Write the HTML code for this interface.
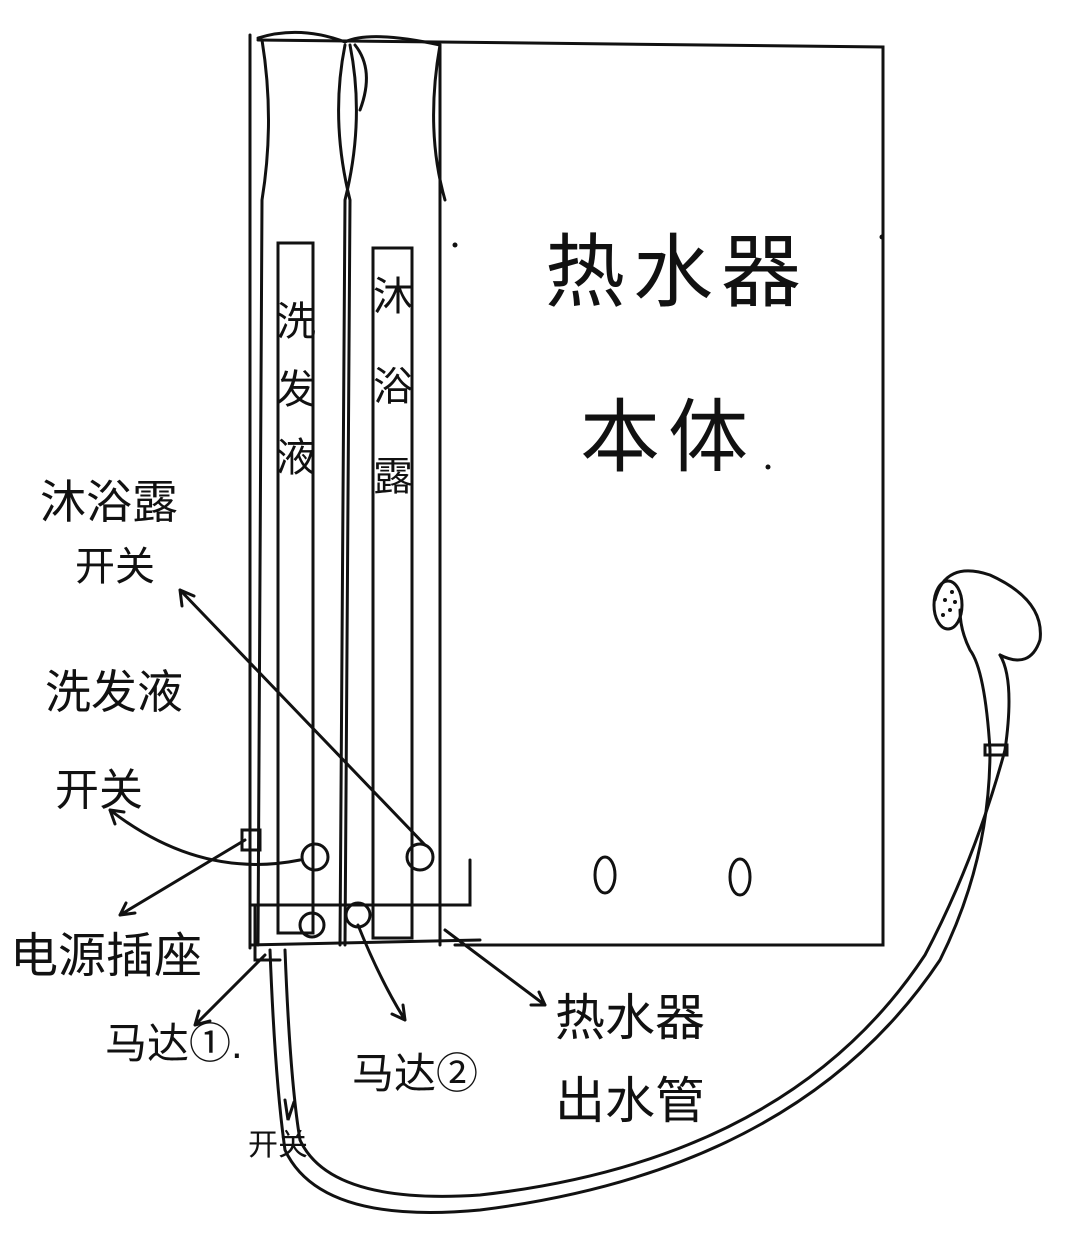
<!DOCTYPE html>
<html><head><meta charset="utf-8"><style>
html,body{margin:0;padding:0;background:#fff;}
svg{display:block}
text{font-family:"Liberation Sans","Noto Sans CJK SC","WenQuanYi Zen Hei",sans-serif;fill:#111;}
</style></head><body>
<svg width="1072" height="1248" viewBox="0 0 1072 1248" xmlns="http://www.w3.org/2000/svg">
<g fill="none" stroke="#111" stroke-width="3" stroke-linecap="round">
<path d="M258 40 L883 47 L883 945 L455 945"/>
<path d="M250 35 L250 948"/>
<path d="M258 38 Q300 25 345 42 Q370 30 440 45 L440 945"/>
<path d="M262 40 Q275 120 262 200 L258 945"/>
<path d="M345 45 Q330 120 350 200 L345 945"/>
<path d="M350 45 Q365 120 345 200 L340 945"/>
<path d="M355 45 Q375 70 360 110"/>
<path d="M440 45 Q425 130 445 200"/>
<rect x="278" y="243" width="35" height="690"/>
<rect x="373" y="248" width="39" height="690"/>
<path d="M250 905 L470 905 L470 860"/>
<path d="M250 945 L480 940"/>
<path d="M255 905 L255 960 L280 960"/>
<circle cx="315" cy="857" r="13"/>
<circle cx="420" cy="857" r="13"/>
<circle cx="312" cy="925" r="12"/>
<circle cx="358" cy="915" r="12"/>
<rect x="242" y="830" width="18" height="20"/>
<ellipse cx="605" cy="875" rx="10" ry="18"/>
<ellipse cx="740" cy="877" rx="10" ry="18"/>
<path d="M425 845 L180 590 M180 590 l2 16 M180 590 l14 6"/>
<path d="M300 860 Q200 880 110 810 M110 810 l5 14 M110 810 l14 2"/>
<path d="M245 840 L120 915 M120 915 l15 -2 M120 915 l6 -12"/>
<path d="M265 955 L195 1025 M195 1025 l15 -4 M195 1025 l4 -14"/>
<path d="M358 925 Q380 980 405 1020 M405 1020 l-2 -15 M405 1020 l-13 -6"/>
<path d="M445 930 L545 1005 M545 1005 l-6 -13 M545 1005 l-14 0"/>
<path d="M270 950 Q275 1080 285 1150 Q320 1225 480 1210 Q800 1170 940 960 Q990 860 990 750"/>
<path d="M285 950 Q290 1080 300 1140 Q330 1205 480 1195 Q790 1160 925 955 Q975 860 1005 750"/>
<path d="M285 1100 l3 20 l6 -18"/>
<path d="M990 750 Q985 670 970 650 Q960 630 960 610 M1005 750 Q1015 680 1000 655"/>
<path d="M935 600 Q945 560 990 575 Q1045 600 1040 640 Q1030 670 1000 655"/>
<ellipse cx="948" cy="605" rx="14" ry="24"/>
<rect x="985" y="745" width="22" height="10"/>
</g>
<g fill="#111">
<circle cx="945" cy="600" r="2"/><circle cx="952" cy="592" r="2"/><circle cx="950" cy="610" r="2"/><circle cx="943" cy="615" r="2"/><circle cx="955" cy="602" r="2"/>
<circle cx="455" cy="245" r="2.5"/><circle cx="882" cy="237" r="2.5"/><circle cx="768" cy="467" r="2.5"/>
</g>
<text x="545" y="300" font-size="80" letter-spacing="8">热水器</text>
<text x="580" y="465" font-size="80" letter-spacing="8">本体</text>
<text x="292" y="300" font-size="40" letter-spacing="28" style="writing-mode:vertical-rl">洗发液</text>
<text x="389" y="275" font-size="40" letter-spacing="50" style="writing-mode:vertical-rl">沐浴露</text>
<text x="40" y="518" font-size="46">沐浴露</text>
<text x="75" y="580" font-size="40">开关</text>
<text x="45" y="708" font-size="46">洗发液</text>
<text x="55" y="805" font-size="44">开关</text>
<text x="10" y="972" font-size="48">电源插座</text>
<text x="105" y="1058" font-size="42">马达①.</text>
<text x="352" y="1088" font-size="42">马达②</text>
<text x="555" y="1035" font-size="50">热水器</text>
<text x="555" y="1118" font-size="50">出水管</text>
<text x="248" y="1155" font-size="30">开关</text>
</svg>
</body></html>
